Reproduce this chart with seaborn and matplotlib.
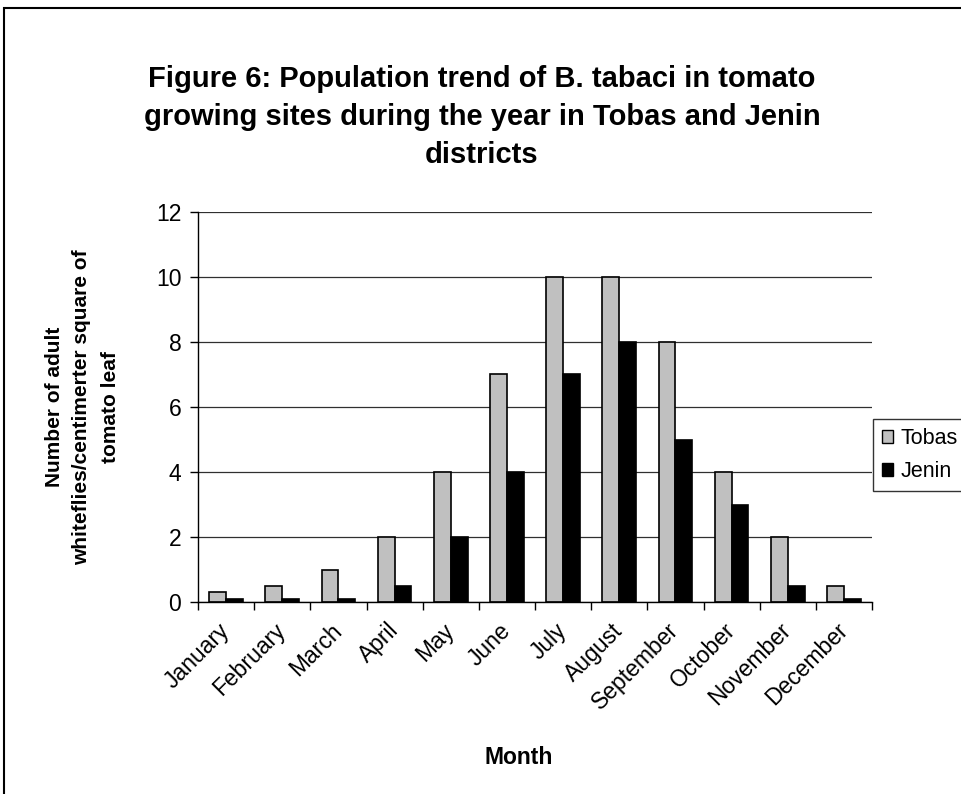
import matplotlib
matplotlib.use("Agg")
import matplotlib.pyplot as plt
import matplotlib.patches as mpatches
import seaborn as sns
import pandas as pd

months = ["January", "February", "March", "April", "May", "June", "July",
          "August", "September", "October", "November", "December"]
tobas = [0.3, 0.5, 1.0, 2, 4, 7, 10, 10, 8, 4, 2, 0.5]
jenin = [0.1, 0.1, 0.1, 0.5, 2, 4, 7, 8, 5, 3, 0.5, 0.1]
sites = ["Tobas", "Jenin"]
site_colors = {"Tobas": "#C0C0C0", "Jenin": "#000000"}
y_ticks = [0, 2, 4, 6, 8, 10, 12]

df = pd.DataFrame({
    "Month": months * 2,
    "Site": ["Tobas"] * len(months) + ["Jenin"] * len(months),
    "Value": tobas + jenin,
})

sns.set_theme(style="white")
plt.rcParams["font.family"] = ["Liberation Sans", "DejaVu Sans"]
plt.rcParams["text.color"] = "black"
plt.rcParams["xtick.color"] = "black"
plt.rcParams["ytick.color"] = "black"

W, H = 961, 794
fig = plt.figure(figsize=(W / 100, H / 100), dpi=100)
ax = fig.add_axes([198 / W, 1 - 602 / H, (872 - 198) / W, (602 - 212) / H])

sns.barplot(data=df, x="Month", y="Value", hue="Site", hue_order=sites,
            palette=site_colors, order=months, width=0.6, gap=0,
            edgecolor="black", linewidth=1.2, saturation=1, ax=ax, legend=False)

ax.set_ylim(0, 12)
ax.set_xlim(-0.5, len(months) - 0.5)
ax.set_yticks(y_ticks)
ax.set_yticklabels([str(t) for t in y_ticks], fontsize=16.5)
ax.yaxis.grid(True, color="#303030", linewidth=0.9)
ax.set_axisbelow(True)

# Category tick marks sit on the boundaries between months
ax.set_xticks([i - 0.5 for i in range(len(months) + 1)], minor=False)
ax.set_xticklabels([])
ax.set_xticks(range(len(months)), minor=True)
ax.set_xticklabels(months, minor=True, rotation=45, ha="right", va="center",
                   rotation_mode="anchor", fontsize=16.5)
ax.tick_params(axis="x", which="major", direction="out", length=6, width=1,
               color="black", bottom=True)
ax.tick_params(axis="x", which="minor", length=0, pad=18)
ax.tick_params(axis="y", direction="out", length=6, width=1, color="black",
               left=True, pad=6)

for side in ["top", "right"]:
    ax.spines[side].set_visible(False)
for side in ["left", "bottom"]:
    ax.spines[side].set_color("black")
    ax.spines[side].set_linewidth(1.0)

ax.set_xlabel("")
ax.set_ylabel("")

fig.text(482 / W, 1 - 117 / H,
         "Figure 6: Population trend of B. tabaci in tomato\n"
         "growing sites during the year in Tobas and Jenin\n"
         "districts",
         ha="center", va="center", fontsize=21, fontweight="bold",
         linespacing=1.45)

fig.text(519 / W, 1 - 757 / H, "Month",
         ha="center", va="center", fontsize=16.5, fontweight="bold")

fig.text(82 / W, 1 - 407 / H,
         "Number of adult\nwhiteflies/centimerter square of\ntomato leaf",
         ha="center", va="center", rotation=90, fontsize=15,
         fontweight="bold", linespacing=1.6)

handles = [mpatches.Patch(facecolor=site_colors[s], edgecolor="black",
                          linewidth=1.0, label=s) for s in sites]
leg = fig.legend(handles=handles, loc="center left",
                 bbox_to_anchor=(873 / W, 1 - 455 / H), fontsize=15.5,
                 frameon=True, fancybox=False, handlelength=0.55, handleheight=0.55,
                 handletextpad=0.35, borderpad=0.4, labelspacing=0.55,
                 borderaxespad=0)
leg.get_frame().set_edgecolor("black")
leg.get_frame().set_linewidth(1.0)

# Outer chart border
fig.add_artist(mpatches.Rectangle((4 / W, -0.01), 1.0, 1 - 8 / H + 0.01,
                                  transform=fig.transFigure, fill=False,
                                  edgecolor="black", linewidth=1.5))

fig.savefig("out.png", dpi=100)
